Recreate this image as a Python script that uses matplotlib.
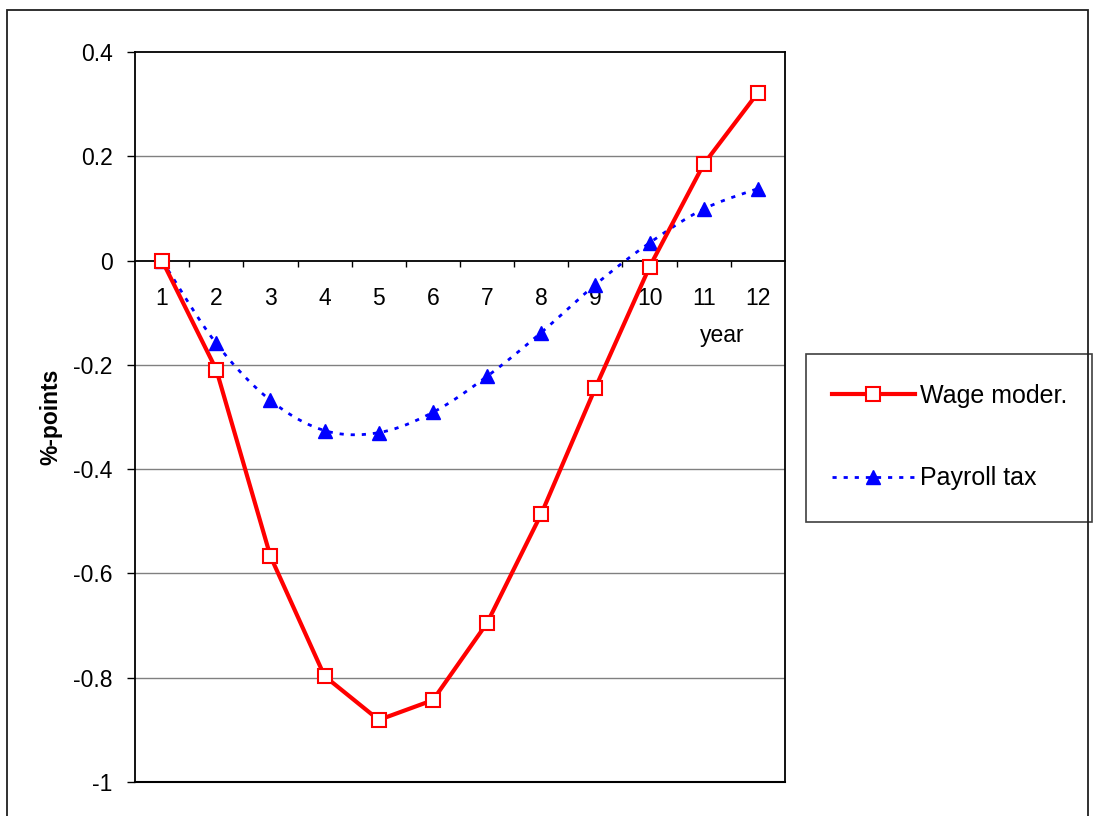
import matplotlib.pyplot as plt
import numpy as np
from matplotlib.patches import Rectangle

plt.rcParams['font.family'] = ['Liberation Sans', 'DejaVu Sans']

years = list(range(1, 13))
wage_moder = [0.0, -0.209, -0.567, -0.797, -0.881, -0.843, -0.695, -0.486, -0.244, -0.012, 0.185, 0.322]
payroll_tax = [0.0, -0.159, -0.268, -0.326, -0.330, -0.291, -0.222, -0.138, -0.046, 0.034, 0.099, 0.138]
yticks = [0.4, 0.2, 0, -0.2, -0.4, -0.6, -0.8, -1]
ytick_labels = ['0.4', '0.2', '0', '-0.2', '-0.4', '-0.6', '-0.8', '-1']


def smooth(x, y, n=20):
    # catmull-rom style smoothing, like Excel's smoothed line
    x = np.asarray(x, float)
    y = np.asarray(y, float)
    xs, ys = [], []
    for i in range(len(x) - 1):
        x0, y0 = (x[i - 1], y[i - 1]) if i > 0 else (x[i], y[i])
        x3, y3 = (x[i + 2], y[i + 2]) if i + 2 < len(x) else (x[i + 1], y[i + 1])
        t = np.linspace(0, 1, n, endpoint=False)
        p1x, p1y = x[i] + (x[i + 1] - x0) / 6, y[i] + (y[i + 1] - y0) / 6
        p2x, p2y = x[i + 1] - (x3 - x[i]) / 6, y[i + 1] - (y3 - y[i]) / 6
        b = [(1 - t) ** 3, 3 * (1 - t) ** 2 * t, 3 * (1 - t) * t ** 2, t ** 3]
        xs.append(b[0] * x[i] + b[1] * p1x + b[2] * p2x + b[3] * x[i + 1])
        ys.append(b[0] * y[i] + b[1] * p1y + b[2] * p2y + b[3] * y[i + 1])
    xs.append([x[-1]])
    ys.append([y[-1]])
    return np.concatenate(xs), np.concatenate(ys)


fig = plt.figure(figsize=(10.95, 8.16), dpi=100)
ax = fig.add_axes([135 / 1095, 34 / 816, 650 / 1095, 730 / 816])

for yv in yticks:
    if yv not in (0, -1, 0.4):
        ax.axhline(yv, color='#808080', lw=1, zorder=1)

sx, sy = smooth(years, payroll_tax)
ax.plot(sx, sy, color='#0000FF', lw=2, ls=(0, (1.5, 2.5)), zorder=3)
ax.plot(years, payroll_tax, color='#0000FF', ls='none', marker='^', ms=10, zorder=4)
ax.plot(years, wage_moder, color='#FF0000', lw=3, marker='s', ms=10,
        mfc='white', mec='#FF0000', mew=1.5, zorder=5)

# legend handles
h1, = ax.plot([], [], color='#FF0000', lw=3, marker='s', ms=10, mfc='white', mec='#FF0000', mew=1.5)
h2, = ax.plot([], [], color='#0000FF', lw=2, ls=(0, (1.5, 2.5)), marker='^', ms=10)

ax.set_xlim(0.5, 12.5)
ax.set_ylim(-1, 0.4)
ax.set_yticks(yticks)
ax.set_yticklabels(ytick_labels)
ax.tick_params(axis='y', direction='out', length=6, width=1, pad=10, labelsize=16.5)

ax.spines['bottom'].set_position(('data', 0))
for s in ax.spines.values():
    s.set_linewidth(1.3)
ax.axhline(-1, color='black', lw=1.5, clip_on=False, zorder=6)
ax.set_xticks(years)
ax.set_xticklabels([str(y) for y in years])
ax.set_xticks(np.arange(1.5, 12.5, 1), minor=True)
ax.tick_params(axis='x', which='major', length=0, pad=19, labelsize=16.5)
ax.tick_params(axis='x', which='minor', direction='out', length=4, width=1)

ax.text(11.35, -0.144, 'year', fontsize=16.5, ha='center', va='center')
ax.set_ylabel('%-points', fontsize=16.5, fontweight='bold', labelpad=8)

# legend
fig.patches.append(Rectangle((806 / 1095, (816 - 522) / 816), 286 / 1095, 168 / 816,
                             transform=fig.transFigure, fill=False, ec='#404040', lw=1.2))
fig.legend([h1, h2], ['Wage moder.', 'Payroll tax'], loc='center left',
           bbox_to_anchor=(832 / 1095, (816 - 437) / 816), frameon=False,
           fontsize=18, handlelength=3.3, handletextpad=0.2, labelspacing=2.35,
           borderpad=0, borderaxespad=0)

# outer chart frame
fig.patches.append(Rectangle((7 / 1095, -0.1), 1081 / 1095, 1.1 - 10 / 816,
                             transform=fig.transFigure, fill=False, ec='#202020', lw=1.3))

fig.savefig('out.png', dpi=100)
